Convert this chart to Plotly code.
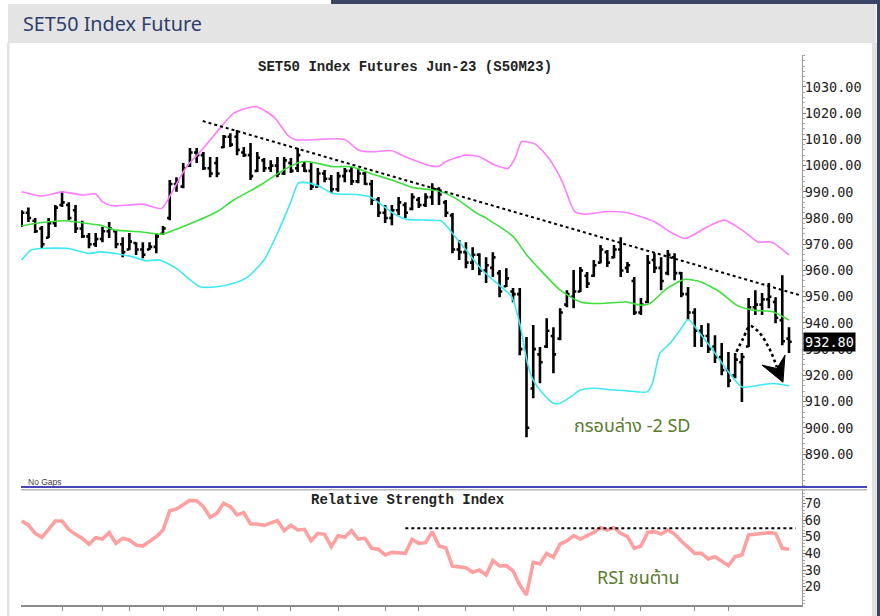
import plotly.graph_objects as go

# ---------------- data ----------------
bars = list(range(1, 116))

high = [983, 984, 980, 977, 980, 985, 990.3, 986, 985, 979,
        974.3, 974.3, 976.6, 978.5, 975.4, 972.7, 974.3, 970.8, 970.8, 970.8,
        974.3, 977, 994.5, 995.6, 1001, 1006.7, 1006.7, 1005.2, 1003.3, 1003.3,
        1011.7, 1012.4, 1013.6, 1007.1, 1008.6, 1005.2, 1002.9, 1002.1, 1003.3, 1003.3,
        1002.9, 1006.7, 1001.4, 1001, 999.1, 998.3, 996.4, 997.6, 999.1, 999.5,
        999.1, 997.6, 994.5, 988, 985, 985, 988, 986, 989.5, 988,
        989.5, 993.3, 991.8, 986.9, 981.9, 971.6, 970.8, 968.9, 966.6, 965.1,
        967, 960.2, 960.9, 953.3, 953.3, 934.6, 939.2, 930.8, 941.8, 938.4,
        945.6, 952.5, 960.2, 961.3, 959.4, 964, 969.7, 967.8, 969.7, 972.7,
        963.2, 957.5, 949.5, 965.9, 966.6, 965.1, 967.8, 966.6, 959.4, 953.7,
        945.6, 939.2, 939.9, 935.3, 932.3, 928.9, 928.5, 928.5, 949.5, 952.5,
        951.4, 955.2, 949.8, 958.2, 938.4]

low = [976.6, 978.5, 974.3, 968.5, 972.4, 976.6, 984.2, 979.2, 974.3, 972.4,
       968.5, 969, 970.8, 972.4, 968.5, 965.1, 967.8, 965.9, 964.7, 967.8,
       966.6, 973.5, 979.2, 990, 991.4, 999.5, 1001, 998.3, 995.6, 995.6,
       1006.7, 1007.1, 1004, 1003.3, 994.5, 997.6, 997.6, 997.6, 995.6, 996.4,
       997.2, 997.6, 997.6, 990.7, 991.8, 993.7, 989.5, 990, 993.7, 992.6,
       993.3, 992.6, 985, 980.4, 978.1, 977.3, 981.1, 980, 983, 983.8,
       984.2, 985, 985, 980.4, 966.6, 964, 960.9, 960.2, 958.2, 955.2,
       957.5, 949.8, 953.7, 947.9, 927.7, 896.4, 911.3, 917, 930.4, 920.8,
       933.4, 946, 945.6, 951.8, 953.3, 957.5, 962.8, 961.3, 964.7, 957.5,
       959, 943, 943, 947.6, 959, 952.5, 958.2, 956.3, 949.8, 941.1,
       930.8, 930.8, 928.5, 924.7, 920, 915.5, 918.9, 909.8, 930.8, 943,
       943, 945.6, 939.9, 931.5, 928.5]

open_ = [978, 982, 979, 976, 972.5, 978, 985, 985, 983, 976,
         973, 970, 972, 975, 975, 970, 968, 970.5, 968, 968,
         969, 974, 980, 993, 992, 1000, 1005, 1004, 999, 1001,
         1007, 1011, 1011, 1005, 1004, 998, 1002, 999, 1000, 997,
         1001, 999, 1000, 998, 992, 997, 995, 991, 996, 998,
         994, 997, 993, 987, 982, 980, 983, 985, 983.5, 987,
         985, 988, 991, 986, 981, 968, 967, 963, 966, 960,
         961, 959, 954, 952, 951, 930, 915, 928, 931, 935,
         934, 947, 950, 952, 958, 958, 963, 967, 965, 968,
         961, 956, 944, 948, 964, 961, 959, 965, 959, 951,
         944, 937, 935, 931, 927, 922, 920, 925, 931, 946,
         947, 949, 948, 941, 934]

close = [982, 980, 975, 970, 978, 984, 986, 980, 976, 973,
         970, 972, 975, 976, 970, 967, 971, 968, 966, 969,
         973, 976, 993, 994, 999, 1005, 1004, 999, 997, 997,
         1011, 1008, 1006, 1004, 996, 1003, 999, 1000, 997, 1002,
         998, 1004, 998, 992, 997, 995, 991, 996, 998, 994,
         997, 993, 987, 982, 980, 983, 986, 982, 988, 985,
         988, 991, 989, 982, 968, 967, 963, 966, 960, 962,
         965, 952, 957, 951, 930, 900, 930, 925, 937, 928,
         944, 951, 952, 960, 955, 962, 968, 963, 968, 960,
         962, 944, 947, 963, 961, 956, 966, 959, 951, 944,
         937, 935, 930, 927, 922, 918, 926, 927, 946, 947,
         949, 950, 942, 933, 932.8]

rsi = [59.4, 57, 52, 49.6, 54.4, 59.4, 59.4, 54.4, 51.4, 49,
       45.4, 49.4, 48.6, 52.4, 46, 49, 48, 45, 44.4, 47,
       50, 54, 65.6, 66.6, 69.4, 71.8, 71.6, 68, 61.6, 64,
       70, 68, 63, 64.4, 57.6, 57.6, 56.8, 58.4, 59.6, 53.6,
       56.8, 54, 54.4, 47.6, 52, 51.4, 44, 50.6, 49.6, 53.6,
       48.6, 49, 43, 42.4, 39, 40.6, 40.4, 40, 48.4, 46,
       46.4, 53, 44.4, 43.4, 32.4, 32, 31.4, 28.6, 30, 27,
       35.6, 32.4, 32.6, 29.4, 21, 15, 34.6, 33.6, 40, 37.6,
       45.6, 47.4, 50.6, 48.6, 50.4, 52.6, 55.4, 54, 55.4, 52,
       50, 43, 44.4, 52.6, 53, 51.6, 54, 51.6, 47.4, 43.6,
       40, 40, 36.6, 38, 35, 32.6, 38, 39, 51, 51.6,
       52, 52.4, 52, 43, 42.4]

upper_x = [1, 4, 7, 10, 12, 13, 14.6, 19, 21.8, 23.5, 25.5, 28, 30.5, 32.5, 34.5, 36,
           38.5, 40.5, 41.5, 43.3, 49, 51, 53, 56, 58, 62, 63, 64, 66.9, 69, 71.3,
           73.3, 74.3, 75.3, 77.3, 79.3, 81.3, 83.2, 85, 88, 91, 93, 95, 97.5, 99.6,
           102.9, 105.4, 108, 110.4, 112.4, 115]
upper_y = [990, 988.4, 990, 988.8, 989.2, 986.2, 984.7, 985.3, 983.7, 990.7, 999.6, 1006.7,
           1014.4, 1020, 1022, 1022.4, 1018.5, 1011.7, 1010, 1009.8, 1010, 1006, 1005.3,
           1005.7, 1003.4, 999.8, 999.8, 1001.5, 1004, 1003.4, 1000.2, 999, 1002.8, 1009.2,
           1008.2, 1002.8, 994, 982.4, 981.5, 982.5, 982, 980.5, 978.6, 974.5, 972.2,
           976.7, 979.2, 975.5, 970.9, 970.9, 965.9]

mid_x = [1, 4, 7.5, 10, 12.6, 15, 18.5, 21.9, 25.5, 30, 32.5, 36.5, 39.5, 42.3, 43.8,
         47.2, 50, 53.1, 56, 59, 63, 65.5, 68.5, 70, 74, 76, 78.5, 81, 84, 87, 90.9,
         92.9, 94.3, 96.9, 99.5, 101.8, 104.7, 107.2, 109.7, 112.6, 115]
mid_y = [977, 978.3, 979, 978.2, 977.3, 975.4, 974.8, 973.9, 977.3, 982.4, 986.9, 992.6,
         997.7, 1001.3, 1001.5, 999.6, 999.6, 996.8, 994.5, 991.7, 990.3, 987.5, 982,
         980, 973, 966, 959, 952.5, 948, 947.4, 948, 946.8, 947.4, 953.2, 956.6, 955.7,
         951.9, 946.8, 944.9, 944.3, 941.1]

lower_x = [1, 2.4, 4, 7.9, 11, 12.6, 15, 17.5, 19.5, 21.5, 24, 25.5, 27.5, 30, 32.5, 34.6,
           37, 39, 40.9, 42.1, 43.3, 45.3, 47.2, 50.7, 52.7, 54.2, 56.2, 58.2, 61.2, 63.4,
           65.4, 67.4, 69.4, 71.9, 73.8, 75, 76.2, 77, 78.3, 80, 81, 82.5, 84, 86, 89,
           91, 93.9, 94.7, 95.8, 97.3, 98.8, 100, 101.8, 103.7, 105.8, 108, 110.7, 112.6, 115]
lower_y = [964, 967.8, 968.4, 968.4, 966.5, 967.1, 966.5, 965.2, 963.7, 964, 960.8, 957.6,
           953.8, 953.8, 955.1, 957.6, 964, 974.2, 985.6, 993.3, 993.5, 992, 989.4, 989,
           988.1, 985.6, 981.8, 979.5, 979.2, 978.8, 972.9, 966.6, 960.2, 954.5, 950,
           939.8, 924, 918.2, 913.5, 909.4, 909.4, 911.7, 914.4, 915.1, 914.4, 914.1,
           913.7, 916.9, 928.3, 932.2, 937.2, 941.3, 935.9, 929.6, 922, 915.6, 916.3,
           916.9, 916]

trend_x = [27.9, 116.6]
trend_y = [1017, 950.6]

curve_x = [107.2, 108.2, 109.2, 110.2, 111.1, 111.8, 112.4, 113.2]
curve_y = [929, 934.2, 938.8, 937.3, 934.6, 931.5, 928.5, 923.1]
head_x = [111.0, 114.1, 114.4, 113.2, 111.0]
head_y = [923.9, 917.4, 927.7, 922.6, 923.9]

rsi_res_x = [58, 116]
rsi_res_y = [55, 55]

xtick_bars = [7, 13, 17, 22, 27, 31, 36, 41, 48, 55, 60, 67, 74, 79, 84, 89, 93, 101, 106]
price_ticks = [890, 900, 910, 920, 930, 940, 950, 960, 970, 980, 990, 1000, 1010, 1020, 1030]
rsi_ticks = [20, 30, 40, 50, 60, 70]
last_price = 932.80

# ---------------- geometry helpers ----------------
W, H = 880, 616
ML, MR, MT, MB = 21, 78, 55, 11
PW, PH = W - ML - MR, H - MT - MB


def px_x(px):
    return (px - ML) / PW


def px_y(py):
    return (H - MB - py) / PH


MONO = "DejaVu Sans Mono, Liberation Mono, monospace"
BOLDMONO = "Liberation Mono, Courier New, monospace"
THAI = "Noto Sans Thai, Noto Sans, Tahoma, sans-serif"

fig = go.Figure()

# Bollinger bands
fig.add_trace(go.Scatter(x=upper_x, y=upper_y, mode="lines", line=dict(color="#ff7dff", width=1.6, shape="spline", smoothing=0.6), hoverinfo="skip"))
fig.add_trace(go.Scatter(x=mid_x, y=mid_y, mode="lines", line=dict(color="#3ee03e", width=1.6, shape="spline", smoothing=0.6), hoverinfo="skip"))
fig.add_trace(go.Scatter(x=lower_x, y=lower_y, mode="lines", line=dict(color="#3ee8f5", width=1.6, shape="spline", smoothing=0.6), hoverinfo="skip"))

# trendline
fig.add_trace(go.Scatter(x=trend_x, y=trend_y, mode="lines", line=dict(color="black", width=2, dash="dot"), hoverinfo="skip"))

# OHLC bars
fig.add_trace(go.Ohlc(x=bars, open=open_, high=high, low=low, close=close,
                      increasing=dict(line=dict(color="black", width=2.6)),
                      decreasing=dict(line=dict(color="black", width=2.6)),
                      tickwidth=0.4, hoverinfo="skip"))

# dotted curved arrow
fig.add_trace(go.Scatter(x=curve_x, y=curve_y, mode="lines", line=dict(color="black", width=2.6, dash="dot", shape="spline"), hoverinfo="skip"))
fig.add_trace(go.Scatter(x=head_x, y=head_y, mode="lines", fill="toself", fillcolor="black", line=dict(color="black", width=1), hoverinfo="skip"))

# RSI
fig.add_trace(go.Scatter(x=bars, y=rsi, mode="lines", line=dict(color="#ffa0a0", width=3.6), yaxis="y2", hoverinfo="skip"))
fig.add_trace(go.Scatter(x=rsi_res_x, y=rsi_res_y, mode="lines", line=dict(color="black", width=2, dash="dot"), yaxis="y2", hoverinfo="skip"))

shapes = [
    # header box
    dict(type="rect", xref="paper", yref="paper", x0=px_x(8), x1=px_x(876), y0=px_y(43), y1=px_y(4),
         fillcolor="#e4e4e4", line=dict(width=0), layer="below"),
    # top navy strip
    dict(type="rect", xref="paper", yref="paper", x0=px_x(331), x1=px_x(880), y0=px_y(4), y1=px_y(0),
         fillcolor="#3a4566", line=dict(width=0)),
    # right navy strip
    dict(type="rect", xref="paper", yref="paper", x0=px_x(877), x1=px_x(880), y0=px_y(616), y1=px_y(0),
         fillcolor="#3a4566", line=dict(width=0)),
    # right gray strip
    dict(type="rect", xref="paper", yref="paper", x0=px_x(872), x1=px_x(877), y0=px_y(616), y1=px_y(43),
         fillcolor="#e2e2e2", line=dict(width=0)),
    # left gray border
    dict(type="rect", xref="paper", yref="paper", x0=px_x(7), x1=px_x(9.5), y0=px_y(616), y1=px_y(43),
         fillcolor="#e2e2e2", line=dict(width=0)),
    # separators
    dict(type="line", xref="paper", yref="paper", x0=0, x1=px_x(867), y0=px_y(487), y1=px_y(487),
         line=dict(color="#4646b4", width=2)),
    dict(type="line", xref="paper", yref="paper", x0=0, x1=px_x(867), y0=px_y(489.8), y1=px_y(489.8),
         line=dict(color="#b8b8b8", width=1.5)),
]

annotations = [
    dict(text="SET50 Index Future", xref="paper", yref="paper", x=px_x(21), y=px_y(24),
         xanchor="left", yanchor="middle", showarrow=False,
         font=dict(family="Noto Sans, Open Sans, sans-serif", size=19.8, color="#2d3e6c")),
    dict(text="<b>SET50 Index Futures Jun-23 (S50M23)</b>", xref="paper", yref="paper",
         x=px_x(405), y=px_y(67), xanchor="center", yanchor="middle", showarrow=False,
         font=dict(family=BOLDMONO, size=14, color="#222222")),
    dict(text="<b>Relative Strength Index</b>", xref="paper", yref="paper",
         x=px_x(408), y=px_y(500), xanchor="center", yanchor="middle", showarrow=False,
         font=dict(family=BOLDMONO, size=14, color="#222222")),
    dict(text="No Gaps", xref="paper", yref="paper", x=px_x(26), y=px_y(482),
         xanchor="left", yanchor="middle", showarrow=False,
         font=dict(family="Liberation Sans, Arial, sans-serif", size=8.5, color="#444444")),
    dict(text="กรอบล่าง -2 SD", xref="x", yref="y", x=91.7, y=900.4,
         xanchor="center", yanchor="middle", showarrow=False,
         font=dict(family=THAI, size=18, color="#5a7a2f")),
    dict(text="RSI ชนต้าน", xref="x", yref="y2", x=92.6, y=25,
         xanchor="center", yanchor="middle", showarrow=False,
         font=dict(family=THAI, size=18, color="#5a7a2f")),
    dict(text=f"{last_price:.2f}", xref="paper", yref="y", x=1, y=last_price,
         xanchor="left", yanchor="middle", xshift=1, showarrow=False, bgcolor="black",
         borderpad=1, font=dict(family=MONO, size=13.5, color="white")),
]

fig.update_layout(
    width=W, height=H, autosize=False,
    margin=dict(l=ML, r=MR, t=MT, b=MB, pad=0, autoexpand=False),
    paper_bgcolor="white", plot_bgcolor="white",
    showlegend=False,
    shapes=shapes, annotations=annotations,
    xaxis=dict(range=[0.9, 116.93], anchor="y2", showgrid=False, zeroline=False, automargin=False,
               showline=True, linecolor="#8a8a8a", linewidth=1.5,
               ticks="outside", tickvals=xtick_bars, ticklen=4, tickcolor="#8a8a8a",
               showticklabels=False, rangeslider=dict(visible=False), fixedrange=True),
    yaxis=dict(domain=[px_y(486), 1], range=[877.8, 1042.2], side="right", anchor="x", automargin=False,
               showgrid=False, zeroline=False, showline=True, linecolor="#9a9a9a", linewidth=1,
               ticks="outside", ticklen=3, tickcolor="#777777", ticklabelstandoff=-4,
               tickvals=price_ticks, ticktext=[f"{v:.2f}" for v in price_ticks],
               tickfont=dict(family=MONO, size=13.5, color="#222222"),
               minor=dict(ticks="outside", ticklen=2, dtick=2, tickcolor="#aaaaaa")),
    yaxis2=dict(domain=[0, px_y(490)], range=[9, 78], side="right", anchor="x", automargin=False,
                showgrid=False, zeroline=False, showline=True, linecolor="#9a9a9a", linewidth=1,
                ticks="outside", ticklen=3, tickcolor="#777777", ticklabelstandoff=-4,
                tickvals=rsi_ticks, ticktext=[str(v) for v in rsi_ticks],
                tickfont=dict(family=MONO, size=13.5, color="#222222"),
                minor=dict(ticks="outside", ticklen=2, dtick=2, tickcolor="#aaaaaa")),
)

fig.write_html("out.html", config={"displayModeBar": False, "responsive": False},
               post_script="document.body.style.margin='0';document.body.style.overflow='hidden';")
